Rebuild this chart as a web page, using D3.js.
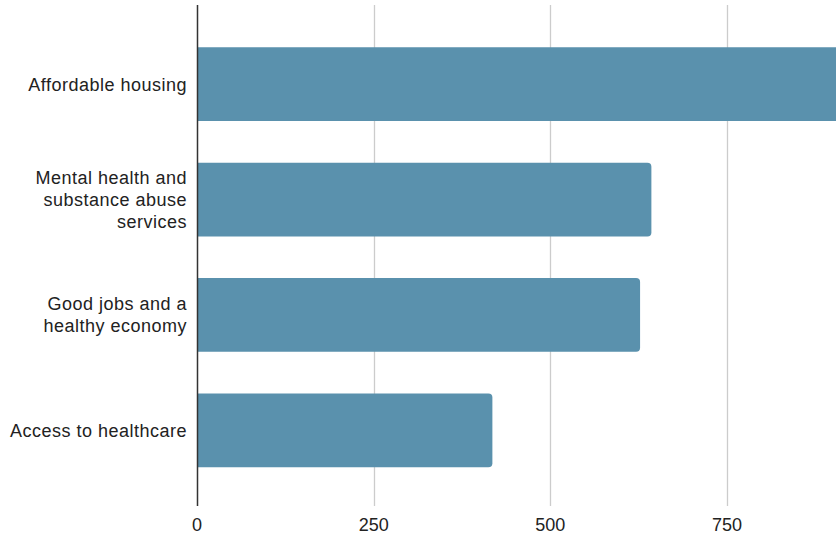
<!DOCTYPE html>
<html>
<head>
<meta charset="utf-8">
<script src="https://cdn.jsdelivr.net/npm/d3@7"></script>
<style>
  html, body { margin: 0; padding: 0; background: #fff; }
  svg { display: block; }
  text { font-family: "Liberation Sans", Arial, sans-serif; fill: #222; }
</style>
</head>
<body>
<svg id="chart" width="836" height="537"></svg>
<script>
// Community priorities, number of responses
const categories = [
  ["Affordable housing"],
  ["Mental health and", "substance abuse", "services"],
  ["Good jobs and a", "healthy economy"],
  ["Access to healthcare"]
];
const values = [985, 643, 627, 418];
const tickValues = [0, 250, 500, 750];
const tickLabels = ["0", "250", "500", "750"];

const W = 836, H = 537;
const x0 = 197;
const plotTop = 5, plotBottom = 506;
const svg = d3.select("#chart");

const x = d3.scaleLinear().domain([0, 750]).range([x0, 727]);
const keys = categories.map((c, i) => i);
const y = d3.scaleBand().domain(keys).range([26.5, 488])
  .paddingInner(0.36).paddingOuter(0.18);

// vertical gridlines
svg.append("g").selectAll("line")
  .data(tickValues.filter(v => v !== 0))
  .join("line")
  .attr("x1", d => Math.round(x(d)) + 0.5)
  .attr("x2", d => Math.round(x(d)) + 0.5)
  .attr("y1", plotTop).attr("y2", plotBottom)
  .attr("stroke", "#cccccc").attr("stroke-width", 1.3);

// bars with rounded right ends
const r = 4;
function barPath(v, i) {
  const xl = x(0), xr = x(v), yt = y(i), yb = y(i) + y.bandwidth();
  return `M${xl},${yt} H${xr - r} Q${xr},${yt} ${xr},${yt + r} V${yb - r} Q${xr},${yb} ${xr - r},${yb} H${xl} Z`;
}
svg.append("g").selectAll("path")
  .data(values)
  .join("path")
  .attr("d", (d, i) => barPath(d, i))
  .attr("fill", "#5a91ad");

// baseline axis
svg.append("line")
  .attr("x1", x0 + 0.5).attr("x2", x0 + 0.5)
  .attr("y1", plotTop).attr("y2", plotBottom)
  .attr("stroke", "#333").attr("stroke-width", 1.5);

// category labels
const lineH = 22;
const lab = svg.append("g").selectAll("text")
  .data(categories)
  .join("text")
  .attr("text-anchor", "end")
  .attr("font-size", 18)
  .attr("letter-spacing", 0.5)
  .attr("x", 187)
  .attr("y", (d, i) => y(i) + y.bandwidth() / 2 - (d.length - 1) * lineH / 2 + 6.5);
lab.selectAll("tspan")
  .data(d => d)
  .join("tspan")
  .attr("x", 187)
  .attr("dy", (d, j) => j === 0 ? 0 : lineH)
  .text(d => d);

// tick labels
svg.append("g").selectAll("text")
  .data(tickValues)
  .join("text")
  .attr("x", d => x(d))
  .attr("y", 531)
  .attr("text-anchor", "middle")
  .attr("font-size", 18)
  .text((d, i) => tickLabels[i]);
</script>
</body>
</html>
